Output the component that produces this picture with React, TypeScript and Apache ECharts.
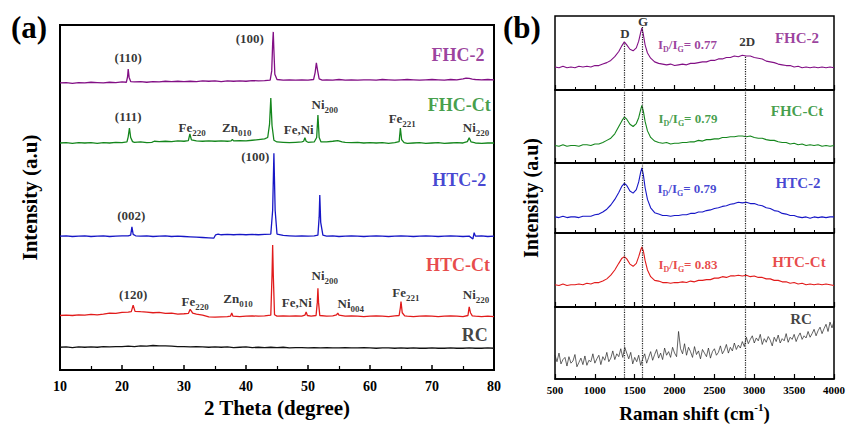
import React, { useEffect, useRef } from "react";
import * as echarts from "echarts";

const FONT = '"Liberation Serif", "Times New Roman", serif';

// ---------- (a) XRD patterns: [2θ, intensity above the trace baseline] ----------
const XRD_NAMES = ["FHC-2", "FHC-Ct", "HTC-2", "HTC-Ct", "RC"];
const XRD_COLORS = ["#820f85", "#14861c", "#1616c6", "#e11b1b", "#111111"];
const XRD_OFFSETS = [83.2, 65.8, 38.8, 15.6, 6.6];

const XRD_FHC2: [number, number][] = [
  [10, 0], [11, 0.1], [12, -0.1], [13, 0.1], [14, 0], [15, 0.2], [16, 0.1], [17, 0], [18, 0.2], [19, 0.1],
  [20, 0.3], [20.7, 0.2], [20.9, 1.8], [21.0, 4.0], [21.15, 1.6], [21.4, 0.4], [22, 0.3], [23, 0.4], [24, 0.2],
  [25, 0.4], [26, 0.3], [27, 0.5], [28, 0.4], [29, 0.5], [30, 0.4], [31, 0.5], [32, 0.4], [33, 0.6], [34, 0.5],
  [35, 0.6], [36, 0.4], [37, 0.6], [38, 0.5], [39, 0.6], [40, 0.5], [41, 0.7], [42, 0.6], [43, 0.7], [43.9, 0.8],
  [44.15, 3.5], [44.3, 11.5], [44.4, 14.8], [44.5, 9.5], [44.65, 2.5], [45.0, 1.0], [46, 0.8], [47, 0.9], [48, 0.8],
  [49, 0.9], [50, 0.8], [50.9, 1.0], [51.15, 3.0], [51.35, 5.8], [51.55, 3.6], [51.8, 1.2], [52.3, 0.8], [53, 0.9],
  [54, 0.8], [55, 1.0], [56, 0.8], [57, 0.9], [58, 0.8], [59, 0.9], [60, 0.9], [61, 0.8], [62, 1.0], [63, 0.9],
  [64, 0.8], [65, 0.9], [66, 1.0], [67, 0.9], [68, 0.8], [69, 0.9], [70, 1.0], [71, 0.9], [72, 0.8], [73, 1.0],
  [74, 0.9], [75, 1.2], [75.5, 1.4], [76, 1.3], [76.5, 1.1], [77, 1.0], [78, 0.9], [79, 1.0], [80, 0.9],
];

const XRD_FHCCT: [number, number][] = [
  [10, 0], [11, 0.1], [12, -0.1], [13, 0.1], [14, 0], [15, 0.1], [16, -0.1], [17, 0.1], [18, 0], [19, 0.2],
  [20, 0.1], [20.8, 0.3], [21.0, 1.8], [21.2, 4.3], [21.4, 1.6], [21.7, 0.4], [22, 0.2], [23, 0.3], [24, 0.1],
  [24.8, 0.2], [25.2, 0.5], [26, 0.4], [27, 0.5], [28, 0.4], [29, 0.6], [30, 0.5], [30.7, 0.7], [30.95, 2.6],
  [31.2, 0.9], [32, 0.6], [33, 0.5], [34, 0.6], [35, 0.5], [36, 0.6], [37, 0.5], [37.6, 0.6], [37.8, 1.0],
  [38.0, 0.6], [39, 0.7], [40, 0.6], [41, 0.8], [42, 1.0], [43, 1.2], [43.5, 1.6], [43.8, 5.5], [44.0, 13.0],
  [44.2, 5.0], [44.5, 0.8], [45, 0.3], [46, 0.2], [47, 0.1], [48, 0.2], [49, 0.3], [49.3, 0.5], [49.5, 1.5],
  [49.7, 0.5], [50, 0.2], [51, 0.3], [51.4, 1.6], [51.6, 8.1], [51.8, 1.6], [52.1, 0.3], [53, 0.3], [54, 0.5],
  [54.8, 0.7], [55.5, 0.3], [56, 0.2], [57, 0.1], [58, 0.2], [59, 0], [60, 0.1], [61, 0], [62, 0.1], [63, -0.1],
  [64, 0.1], [64.7, 0.4], [64.9, 4.3], [65.1, 1.0], [65.5, 0.1], [66, -0.1], [67, 0], [68, 0.1], [69, -0.1],
  [70, 0], [71, 0.1], [72, -0.1], [73, 0], [74, 0.1], [75, 0], [75.7, 0.4], [76.0, 1.5], [76.3, 0.3], [77, 0],
  [78, -0.1], [79, 0], [80, 0],
];

const XRD_HTC2: [number, number][] = [
  [10, 0], [11, 0.1], [12, -0.1], [13, 0], [14, 0.1], [15, -0.1], [16, 0], [17, 0.1], [18, -0.1], [19, 0],
  [20, 0.1], [21, 0.1], [21.4, 0.3], [21.6, 2.7], [21.8, 0.5], [22.2, 0.1], [23, 0], [24, 0.1], [25, -0.1],
  [26, 0], [27, 0.1], [28, -0.1], [29, 0], [30, -0.1], [31, -0.2], [32, -0.3], [33, -0.4], [34, -0.5],
  [34.8, -0.6], [35.1, 0.4], [35.5, 0.6], [36, 0.4], [37, 0.5], [38, 0.4], [39, 0.5], [40, 0.4], [41, 0.5],
  [42, 0.4], [43, 0.5], [44.0, 0.6], [44.3, 7.5], [44.5, 24.0], [44.7, 7.5], [45.0, 0.6], [46, 0.2], [47, 0.1],
  [48, 0], [49, 0.1], [50, 0], [51, 0.1], [51.6, 0.3], [51.8, 5.5], [51.9, 11.9], [52.05, 4.0], [52.4, 0.3],
  [53, 0], [54, 0.1], [55, -0.1], [56, 0], [57, 0.1], [58, 0], [59, -0.1], [60, 0], [61, 0.1], [62, 0],
  [63, -0.1], [64, 0], [65, 0.1], [66, 0], [67, -0.1], [68, 0], [69, 0.1], [70, 0], [71, -0.1], [72, 0],
  [73, 0.1], [74, 0], [75, -0.1], [76, 0], [76.6, -0.8], [76.8, 1.0], [77, 0], [78, 0.1], [79, -0.1], [80, 0],
];

const XRD_HTCCT: [number, number][] = [
  [10, 0.2], [11, 0.3], [12, 0.2], [13, 0.4], [14, 0.3], [15, 0.5], [16, 0.4], [17, 0.6], [18, 0.9], [19, 0.8],
  [20, 1.1], [21, 1.2], [21.5, 1.3], [21.8, 3.2], [22.1, 1.4], [23, 1.3], [24, 1.2], [25, 1.0], [26, 1.1],
  [27, 0.8], [28, 0.9], [29, 0.6], [30, 0.7], [30.7, 0.8], [31.0, 2.0], [31.4, 0.9], [32, 0.6], [33, 0.3],
  [34, -0.2], [35, -0.3], [36, -0.2], [37, -0.1], [37.5, 0], [37.7, 0.9], [37.9, 0], [39, -0.1], [40, 0],
  [41, 0.1], [42, 0], [43, 0.1], [44.0, 0.3], [44.2, 12.0], [44.3, 20.6], [44.4, 12.0], [44.6, 0.4], [45, 0],
  [46, 0.1], [47, 0], [48, 0.1], [49, 0], [49.5, 0.3], [49.7, 1.2], [49.9, 0.2], [50.5, 0], [51.3, 0.2],
  [51.5, 4.0], [51.6, 8.1], [51.7, 4.0], [51.9, 0.2], [53, 0], [54, 0.1], [54.6, 0.4], [54.8, 0.9], [55.0, 0.3],
  [56, 0], [57, 0.1], [58, 0], [59, -0.1], [60, 0], [61, 0.1], [62, 0], [63, -0.1], [64, 0.1], [64.7, 0.2],
  [64.9, 2.5], [65.0, 4.2], [65.2, 1.0], [65.6, 0.1], [66, 0], [67, -0.1], [68, 0], [69, 0.1], [70, 0],
  [71, -0.1], [72, 0], [73, 0.1], [74, 0], [75, -0.1], [75.8, 0.2], [76.0, 2.7], [76.2, 1.0], [76.5, 0.1],
  [77, 0], [78, -0.1], [79, 0], [80, -0.1],
];

const XRD_RC: [number, number][] = [
  [10, 0], [11, 0.1], [12, -0.1], [13, 0.1], [14, 0], [15, 0.1], [16, 0], [17, 0.2], [18, 0.1], [19, 0.2],
  [20, 0.2], [21, 0.3], [22, 0.2], [23, 0.4], [24, 0.3], [25, 0.5], [26, 0.4], [27, 0.4], [28, 0.3], [29, 0.2],
  [30, 0.2], [31, 0.1], [32, 0.2], [33, 0.1], [34, 0], [35, 0.1], [36, 0], [37, 0.1], [38, -0.1], [39, 0],
  [40, 0.1], [41, -0.1], [42, 0], [43, -0.1], [44, 0], [45, -0.1], [46, 0], [47, -0.2], [48, -0.1], [49, -0.1],
  [50, -0.2], [51, -0.1], [52, -0.2], [53, -0.1], [54, -0.2], [55, -0.2], [56, -0.1], [57, -0.2], [58, -0.2],
  [59, -0.1], [60, -0.2], [61, -0.3], [62, -0.2], [63, -0.2], [64, -0.3], [65, -0.2], [66, -0.3], [67, -0.2],
  [68, -0.3], [69, -0.3], [70, -0.2], [71, -0.3], [72, -0.3], [73, -0.2], [74, -0.3], [75, -0.3], [76, -0.2],
  [77, -0.3], [78, -0.3], [79, -0.2], [80, -0.3],
];

const XRD_TRACES = [XRD_FHC2, XRD_FHCCT, XRD_HTC2, XRD_HTCCT, XRD_RC];

// Reflection labels: [2θ, height, text]
const XRD_PEAK_LABELS: [number, number, string][] = [
  [21.0, 90.7, "{t|(110)}"],
  [40.6, 96.2, "{t|(100)}"],
  [21.0, 73.6, "{t|(111)}"],
  [31.3, 70.3, "{t|Fe}{s|220}"],
  [38.5, 70.3, "{t|Zn}{s|010}"],
  [48.5, 69.6, "{t|Fe,Ni}"],
  [52.7, 77.1, "{t|Ni}{s|200}"],
  [65.2, 72.9, "{t|Fe}{s|221}"],
  [77.1, 70.3, "{t|Ni}{s|220}"],
  [41.5, 62.0, "{t|(100)}"],
  [21.5, 44.8, "{t|(002)}"],
  [21.8, 22.0, "{t|(120)}"],
  [31.8, 19.9, "{t|Fe}{s|220}"],
  [38.7, 20.6, "{t|Zn}{s|010}"],
  [48.2, 19.7, "{t|Fe,Ni}"],
  [52.7, 27.5, "{t|Ni}{s|200}"],
  [56.9, 19.3, "{t|Ni}{s|004}"],
  [65.8, 22.5, "{t|Fe}{s|221}"],
  [77.1, 22.0, "{t|Ni}{s|220}"],
];
// Sample names: [2θ, height]
const XRD_NAME_POS: [number, number][] = [
  [74.2, 91.4], [74.4, 76.8], [74.4, 55.1], [74.2, 30.3], [76.9, 10.1],
];

// ---------- (b) Raman spectra: [shift, intensity in panel %] ----------
const RAMAN_FHC2: [number, number][] = [
  [500, 31], [550, 30], [600, 32], [650, 30], [700, 31], [750, 30], [800, 32], [850, 31], [900, 32], [950, 31],
  [1000, 33], [1050, 33], [1100, 35], [1150, 37], [1200, 40], [1250, 45], [1300, 52], [1340, 60], [1370, 65],
  [1400, 61], [1440, 55], [1480, 53], [1520, 57], [1550, 66], [1575, 78], [1590, 84], [1610, 74], [1630, 61],
  [1660, 50], [1700, 43], [1750, 38], [1800, 36], [1850, 35], [1900, 34], [1950, 35], [2000, 33], [2050, 34],
  [2100, 35], [2150, 34], [2200, 36], [2250, 36], [2300, 37], [2350, 38], [2400, 38], [2450, 40], [2500, 40],
  [2550, 42], [2600, 42], [2650, 44], [2700, 44], [2750, 46], [2800, 45], [2850, 47], [2900, 46], [2950, 46],
  [3000, 44], [3050, 43], [3100, 42], [3150, 39], [3200, 38], [3250, 37], [3300, 35], [3350, 34], [3400, 33],
  [3450, 33], [3500, 31], [3550, 32], [3600, 30], [3650, 31], [3700, 30], [3750, 31], [3800, 30], [3850, 31],
  [3900, 30], [3950, 31], [4000, 30],
];
const RAMAN_FHCCT: [number, number][] = [
  [500, 24], [550, 23], [600, 25], [650, 23], [700, 24], [750, 24], [800, 23], [850, 25], [900, 25], [950, 24],
  [1000, 26], [1050, 26], [1100, 28], [1150, 31], [1200, 34], [1250, 40], [1300, 50], [1340, 58], [1370, 63],
  [1400, 60], [1440, 53], [1480, 50], [1520, 54], [1550, 62], [1575, 73], [1590, 79], [1610, 70], [1630, 57],
  [1660, 44], [1700, 35], [1750, 30], [1800, 28], [1850, 27], [1900, 28], [1950, 26], [2000, 27], [2050, 27],
  [2100, 28], [2150, 28], [2200, 29], [2250, 29], [2300, 31], [2350, 30], [2400, 32], [2450, 32], [2500, 33],
  [2550, 33], [2600, 35], [2650, 35], [2700, 36], [2750, 36], [2800, 37], [2850, 37], [2900, 36], [2950, 37],
  [3000, 35], [3050, 34], [3100, 34], [3150, 32], [3200, 31], [3250, 31], [3300, 29], [3350, 28], [3400, 28],
  [3450, 26], [3500, 27], [3550, 25], [3600, 26], [3650, 24], [3700, 25], [3750, 24], [3800, 25], [3850, 23],
  [3900, 24], [3950, 23], [4000, 24],
];
const RAMAN_HTC2: [number, number][] = [
  [500, 23], [550, 22], [600, 24], [650, 22], [700, 23], [750, 23], [800, 22], [850, 24], [900, 24], [950, 24],
  [1000, 26], [1050, 27], [1100, 30], [1150, 34], [1200, 40], [1250, 48], [1300, 58], [1340, 67], [1370, 71],
  [1400, 68], [1440, 60], [1480, 57], [1520, 62], [1550, 73], [1575, 87], [1590, 93], [1610, 82], [1630, 65],
  [1660, 48], [1700, 36], [1750, 29], [1800, 27], [1850, 25], [1900, 25], [1950, 24], [2000, 25], [2050, 25],
  [2100, 26], [2150, 26], [2200, 28], [2250, 28], [2300, 30], [2350, 30], [2400, 32], [2450, 33], [2500, 35],
  [2550, 36], [2600, 38], [2650, 39], [2700, 41], [2750, 42], [2800, 44], [2850, 43], [2900, 44], [2950, 42],
  [3000, 42], [3050, 40], [3100, 39], [3150, 36], [3200, 35], [3250, 32], [3300, 31], [3350, 28], [3400, 27],
  [3450, 25], [3500, 25], [3550, 23], [3600, 22], [3650, 23], [3700, 21], [3750, 23], [3800, 22], [3850, 23],
  [3900, 22], [3950, 23], [4000, 23],
];
const RAMAN_HTCCT: [number, number][] = [
  [500, 30], [550, 29], [600, 31], [650, 29], [700, 30], [750, 30], [800, 31], [850, 30], [900, 32], [950, 31],
  [1000, 33], [1050, 33], [1100, 35], [1150, 38], [1200, 43], [1250, 50], [1300, 59], [1340, 66], [1370, 68],
  [1400, 65], [1440, 58], [1480, 55], [1520, 59], [1550, 68], [1575, 77], [1590, 81], [1610, 75], [1630, 63],
  [1660, 50], [1700, 41], [1750, 36], [1800, 35], [1850, 33], [1900, 33], [1950, 32], [2000, 33], [2050, 33],
  [2100, 34], [2150, 33], [2200, 35], [2250, 34], [2300, 36], [2350, 36], [2400, 37], [2450, 37], [2500, 39],
  [2550, 39], [2600, 41], [2650, 40], [2700, 42], [2750, 42], [2800, 43], [2850, 42], [2900, 43], [2950, 41],
  [3000, 42], [3050, 40], [3100, 40], [3150, 38], [3200, 38], [3250, 36], [3300, 36], [3350, 34], [3400, 34],
  [3450, 32], [3500, 33], [3550, 31], [3600, 32], [3650, 30], [3700, 31], [3750, 30], [3800, 31], [3850, 30],
  [3900, 31], [3950, 30], [4000, 29],
];
// RC spectrum sampled every 25 cm-1 from 500 to 4000
const RAMAN_RC_START = 500;
const RAMAN_RC_STEP = 25;
const RAMAN_RC: number[] = [
  33, 24, 36, 21, 27, 30, 18, 31, 22, 25, 34, 17, 23, 29, 20, 32, 19, 26, 24, 35,
  22, 28, 33, 20, 31, 26, 37, 24, 29, 39, 27, 35, 31, 42, 30, 44, 36, 28, 37, 21,
  30, 24, 33, 19, 28, 35, 22, 30, 38, 26, 34, 41, 29, 36, 27, 43, 33, 38, 30, 44,
  36, 31, 66, 42, 35, 49, 33, 44, 38, 30, 45, 34, 39, 28, 41, 36, 31, 43, 29, 38,
  42, 33, 37, 46, 35, 40, 48, 36, 44, 39, 50, 41, 47, 43, 52, 45, 58, 49, 55, 60,
  50, 57, 53, 62, 48, 56, 51, 59, 54, 46, 58, 52, 61, 50, 56, 53, 63, 51, 58, 55,
  62, 52, 59, 64, 55, 60, 57, 66, 58, 63, 69, 60, 67, 72, 63, 70, 76, 66, 79, 71,
  80,
];

const RAMAN_NAMES = ["FHC-2", "FHC-Ct", "HTC-2", "HTC-Ct", "RC"];
const RAMAN_ID_IG = ["0.77", "0.79", "0.79", "0.83"];
const RAMAN_BANDS = [1370, 1590, 2890]; // D, G, 2D
const RAMAN_BAND_NAMES = ["D", "G", "2D"];
const RAMAN_BAND_LABEL_POS: [number, number][] = [[1378, 77], [1604, 92], [2910, 65]];
const RAMAN_GUIDE_START = [63, 85, 45]; // guide lines begin just under the band tops in the first panel
const RAMAN_NAME_POS: [number, number][] = [[3536, 70], [3536, 71], [3548, 71], [3561, 61], [3586, 83]];
const RAMAN_RATIO_POS: [number, number][] = [[2162, 62], [2168, 61], [2156, 64], [2168, 58]];

// panel geometry for (b)
const RAMAN_TOPS = [16, 90, 163, 233, 307];
const RAMAN_BOTTOM = 379;

const font = (size: number, extra: Record<string, unknown> = {}) => ({
  fontFamily: FONT,
  fontWeight: "bold",
  fontSize: size,
  ...extra,
});
const txt = (size: number, extra: Record<string, unknown> = {}) => font(size, { color: "#000", ...extra });

function buildOption() {
  const rcData: [number, number][] = RAMAN_RC.map((v, i) => [RAMAN_RC_START + i * RAMAN_RC_STEP, v]);
  const ramanTraces = [RAMAN_FHC2, RAMAN_FHCCT, RAMAN_HTC2, RAMAN_HTCCT, rcData];

  const grids: any[] = [
    { left: 60, top: 25, width: 434, height: 345, show: true, borderColor: "#000", borderWidth: 2, outerBoundsMode: "none" },
    ...RAMAN_TOPS.map((t, i) => ({
      left: 555,
      top: t,
      width: 279,
      height: (i < RAMAN_TOPS.length - 1 ? RAMAN_TOPS[i + 1] : RAMAN_BOTTOM) - t,
      show: true,
      borderColor: "#000",
      borderWidth: 1.5,
      outerBoundsMode: "none",
    })),
  ];

  const xAxes: any[] = [
    {
      gridIndex: 0,
      type: "value",
      min: 10,
      max: 80,
      interval: 10,
      axisLine: { lineStyle: { color: "#000", width: 2 } },
      axisTick: { inside: true, length: 5, lineStyle: { color: "#000", width: 1.5 } },
      minorTick: { show: true, splitNumber: 2, length: 4, lineStyle: { color: "#000", width: 1.2 } },
      splitLine: { show: false },
      axisLabel: txt(14, { margin: 9 }),
      name: "2 Theta (degree)",
      nameLocation: "middle",
      nameGap: 26,
      nameTextStyle: txt(21),
    },
    ...RAMAN_TOPS.map((_, i) => {
      const last = i === RAMAN_TOPS.length - 1;
      return {
        gridIndex: i + 1,
        type: "value",
        min: 500,
        max: 4000,
        interval: 500,
        axisLine: { lineStyle: { color: "#000", width: 1.5 } },
        axisTick: { inside: true, length: 5, lineStyle: { color: "#000", width: 1.2 } },
        minorTick: { show: true, splitNumber: 2, length: 3, lineStyle: { color: "#000", width: 1 } },
        splitLine: { show: false },
        axisLabel: last ? txt(11, { margin: 5, formatter: (v: number) => String(v) }) : { show: false },
        name: last ? "{m|Raman shift (cm}{p|-1}{m|)}" : "",
        nameLocation: "middle",
        nameGap: 22,
        nameTextStyle: txt(19, {
          rich: {
            m: font(19, { lineHeight: 24, verticalAlign: "middle" }),
            p: font(11, { verticalAlign: "top" }),
          },
        }),
      };
    }),
  ];

  const hiddenY = {
    type: "value",
    min: 0,
    max: 100,
    axisLine: { show: false },
    axisTick: { show: false },
    axisLabel: { show: false },
    splitLine: { show: false },
    nameLocation: "middle",
  };
  const yAxes: any[] = [
    { ...hiddenY, gridIndex: 0, name: "Intensity (a.u)", nameGap: 20, nameTextStyle: txt(21) },
    ...RAMAN_TOPS.map((_, i) => ({
      ...hiddenY,
      gridIndex: i + 1,
      name: i === 2 ? "Intensity (a.u)" : "",
      nameGap: 14,
      nameTextStyle: txt(20),
    })),
  ];

  const xrdRich = {
    t: font(13, { lineHeight: 20, verticalAlign: "middle" }),
    s: font(9, { verticalAlign: "bottom" }),
    n: font(18, { lineHeight: 22, verticalAlign: "middle" }),
  };
  const ramanRich = {
    t: font(13, { lineHeight: 19, verticalAlign: "middle" }),
    s: font(8, { verticalAlign: "bottom" }),
    n: font(15, { lineHeight: 19, verticalAlign: "middle" }),
  };

  const series: any[] = [];

  XRD_TRACES.forEach((trace, i) => {
    series.push({
      type: "line",
      name: XRD_NAMES[i],
      xAxisIndex: 0,
      yAxisIndex: 0,
      data: trace.map(([x, y]) => [x, y + XRD_OFFSETS[i]]),
      showSymbol: false,
      silent: true,
      lineStyle: { color: XRD_COLORS[i], width: 1.3 },
      itemStyle: { color: XRD_COLORS[i] },
    });
  });

  series.push({
    type: "scatter",
    xAxisIndex: 0,
    yAxisIndex: 0,
    symbolSize: 0,
    silent: true,
    data: [
      ...XRD_PEAK_LABELS.map(([x, y, text]) => ({ value: [x, y], name: text })),
      ...XRD_NAME_POS.map(([x, y], i) => ({
        value: [x, y],
        name: `{n|${XRD_NAMES[i]}}`,
        label: { color: XRD_COLORS[i] },
      })),
    ],
    label: {
      show: true,
      position: "inside",
      formatter: (p: any) => p.name,
      ...txt(13),
      rich: xrdRich,
    },
  });

  ramanTraces.forEach((trace, i) => {
    const isRC = i === ramanTraces.length - 1;
    series.push({
      type: "line",
      name: RAMAN_NAMES[i],
      xAxisIndex: i + 1,
      yAxisIndex: i + 1,
      data: trace,
      showSymbol: false,
      silent: true,
      lineStyle: { color: isRC ? "#222" : XRD_COLORS[i], width: isRC ? 0.7 : 1.1 },
      itemStyle: { color: XRD_COLORS[i] },
      markLine: {
        silent: true,
        symbol: ["none", "none"],
        label: { show: false },
        lineStyle: { type: "dotted", color: "#222", width: 1.2 },
        data: RAMAN_BANDS.map((b, j) => [
          { coord: [b, i === 0 ? RAMAN_GUIDE_START[j] : 100] },
          { coord: [b, 0] },
        ]),
      },
    });

    const labels: any[] = [
      {
        value: RAMAN_NAME_POS[i],
        name: `{n|${RAMAN_NAMES[i]}}`,
        label: { color: XRD_COLORS[i] },
      },
    ];
    if (i < RAMAN_ID_IG.length) {
      labels.push({
        value: RAMAN_RATIO_POS[i],
        name: `{t|I}{s|D}{t|/I}{s|G}{t|= ${RAMAN_ID_IG[i]}}`,
        label: { color: XRD_COLORS[i] },
      });
    }
    if (i === 0) {
      RAMAN_BAND_NAMES.forEach((n, j) => {
        labels.push({ value: RAMAN_BAND_LABEL_POS[j], name: `{t|${n}}`, label: { color: "#000" } });
      });
    }
    series.push({
      type: "scatter",
      xAxisIndex: i + 1,
      yAxisIndex: i + 1,
      symbolSize: 0,
      silent: true,
      data: labels,
      label: {
        show: true,
        position: "inside",
        formatter: (p: any) => p.name,
        ...txt(13),
        rich: ramanRich,
      },
    });
  });

  return {
    animation: false,
    backgroundColor: "#fff",
    grid: grids,
    xAxis: xAxes,
    yAxis: yAxes,
    series,
    graphic: [
      { type: "text", left: 11, top: 12, style: { text: "(a)", font: `bold 31px ${FONT}`, fill: "#000" } },
      { type: "text", left: 503, top: 12, style: { text: "(b)", font: `bold 31px ${FONT}`, fill: "#000" } },
    ],
  };
}

export default function App() {
  const ref = useRef<HTMLDivElement>(null);
  useEffect(() => {
    document.body.style.margin = "0";
    const chart = echarts.init(ref.current!, null, { renderer: "svg" });
    chart.setOption(buildOption() as any);
    return () => chart.dispose();
  }, []);
  return <div ref={ref} style={{ width: 854, height: 435 }} />;
}
